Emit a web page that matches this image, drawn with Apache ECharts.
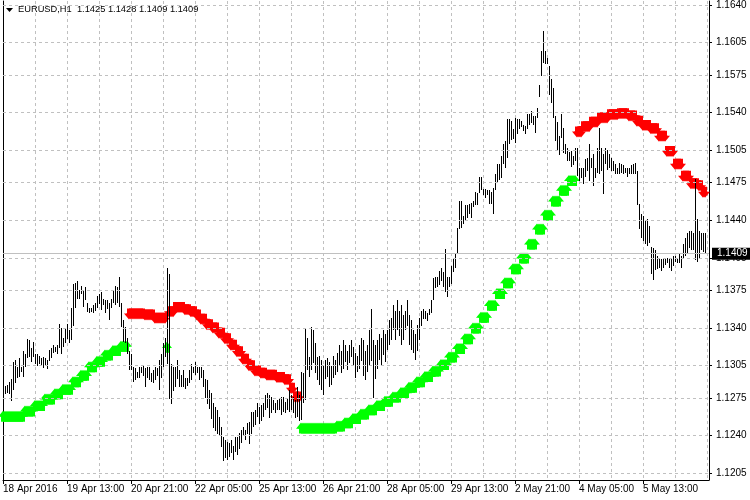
<!DOCTYPE html>
<html><head><meta charset="utf-8">
<script src="https://cdn.jsdelivr.net/npm/echarts@6/dist/echarts.min.js"></script>
<style>html,body{margin:0;padding:0;background:#fff}#c{width:750px;height:500px}</style>
</head><body><div id="c"></div>
<script>
// ---- chart data ----
const symbolName = 'EURUSD';
const timeframe = 'H1';
const lastBar = { open: 1.1425, high: 1.1428, low: 1.1409, close: 1.1409 };
const firstBarUTC = Date.UTC(2016, 3, 18, 5); // 18 Apr 2016 05:00, hourly bars (weekends skipped)
const shiftBars = 2;                           // empty chart-shift space on the right

const highs = [
1.1294,1.1286,1.1287,1.1290,1.1293,1.1308,1.1310,1.1304,1.1312,1.1304,
1.1319,1.1316,1.1330,1.1329,1.1321,1.1327,1.1316,1.1316,1.1314,1.1312,
1.1313,1.1312,1.1310,1.1320,1.1321,1.1324,1.1322,1.1324,1.1344,1.1340,
1.1331,1.1340,1.1344,1.1338,1.1359,1.1381,1.1382,1.1384,1.1375,1.1379,
1.1375,1.1378,1.1363,1.1359,1.1359,1.1361,1.1363,1.1370,1.1372,1.1373,
1.1367,1.1366,1.1366,1.1363,1.1367,1.1375,1.1379,1.1378,1.1387,1.1363,
1.1347,1.1341,1.1331,1.1319,1.1316,1.1304,1.1303,1.1299,1.1304,1.1304,
1.1305,1.1303,1.1304,1.1304,1.1298,1.1301,1.1304,1.1303,1.1310,1.1316,
1.1326,1.1331,1.1396,1.1390,1.1307,1.1304,1.1304,1.1310,1.1301,1.1296,
1.1301,1.1294,1.1294,1.1301,1.1307,1.1304,1.1308,1.1304,1.1304,1.1304,
1.1301,1.1293,1.1292,1.1282,1.1280,1.1270,1.1267,1.1264,1.1257,1.1248,
1.1239,1.1236,1.1234,1.1233,1.1236,1.1230,1.1239,1.1239,1.1242,1.1245,
1.1248,1.1245,1.1252,1.1253,1.1262,1.1262,1.1264,1.1270,1.1267,1.1268,
1.1270,1.1278,1.1280,1.1278,1.1276,1.1273,1.1270,1.1273,1.1275,1.1276,
1.1276,1.1271,1.1275,1.1282,1.1278,1.1276,1.1273,1.1285,1.1278,1.1299,
1.1298,1.1339,1.1331,1.1313,1.1341,1.1338,1.1326,1.1313,1.1314,1.1310,
1.1305,1.1310,1.1312,1.1308,1.1305,1.1314,1.1310,1.1317,1.1324,1.1319,
1.1329,1.1324,1.1319,1.1324,1.1329,1.1322,1.1317,1.1314,1.1324,1.1331,
1.1329,1.1319,1.1324,1.1338,1.1358,1.1329,1.1324,1.1329,1.1334,1.1331,
1.1338,1.1334,1.1338,1.1347,1.1349,1.1361,1.1356,1.1366,1.1356,1.1361,
1.1352,1.1356,1.1366,1.1352,1.1347,1.1338,1.1334,1.1343,1.1349,1.1356,
1.1358,1.1356,1.1354,1.1358,1.1366,1.1386,1.1387,1.1387,1.1393,1.1396,
1.1392,1.1413,1.1387,1.1387,1.1398,1.1405,1.1409,1.1433,1.1458,1.1458,
1.1444,1.1454,1.1454,1.1455,1.1456,1.1458,1.1466,1.1465,1.1480,1.1480,
1.1469,1.1469,1.1468,1.1468,1.1466,1.1470,1.1483,1.1492,1.1492,1.1500,
1.1511,1.1514,1.1534,1.1534,1.1532,1.1525,1.1535,1.1534,1.1534,1.1532,
1.1529,1.1528,1.1539,1.1539,1.1542,1.1537,1.1537,1.1544,1.1566,1.1597,
1.1616,1.1597,1.1591,1.1583,1.1571,1.1563,1.1537,1.1531,1.1518,1.1539,
1.1526,1.1511,1.1507,1.1503,1.1504,1.1500,1.1507,1.1507,1.1489,1.1489,
1.1489,1.1497,1.1498,1.1511,1.1498,1.1502,1.1489,1.1507,1.1526,1.1507,
1.1502,1.1507,1.1505,1.1502,1.1498,1.1495,1.1492,1.1489,1.1493,1.1492,
1.1491,1.1489,1.1489,1.1489,1.1491,1.1492,1.1493,1.1486,1.1455,1.1446,
1.1444,1.1440,1.1441,1.1435,1.1415,1.1414,1.1412,1.1407,1.1404,1.1404,
1.1405,1.1404,1.1405,1.1405,1.1405,1.1407,1.1407,1.1405,1.1409,1.1407,
1.1418,1.1424,1.1428,1.1430,1.1430,1.1428,1.1478,1.1441,1.1430,1.1428,
1.1428,1.1428
];
const lows = [
1.1276,1.1279,1.1280,1.1279,1.1273,1.1282,1.1289,1.1294,1.1294,1.1299,
1.1295,1.1304,1.1312,1.1313,1.1308,1.1313,1.1307,1.1305,1.1307,1.1305,
1.1303,1.1305,1.1302,1.1310,1.1312,1.1317,1.1317,1.1316,1.1322,1.1316,
1.1323,1.1326,1.1330,1.1326,1.1329,1.1342,1.1359,1.1367,1.1367,1.1372,
1.1359,1.1366,1.1355,1.1354,1.1355,1.1354,1.1356,1.1359,1.1363,1.1356,
1.1361,1.1354,1.1358,1.1347,1.1359,1.1363,1.1361,1.1363,1.1359,1.1341,
1.1327,1.1326,1.1316,1.1301,1.1301,1.1290,1.1292,1.1293,1.1294,1.1298,
1.1296,1.1285,1.1294,1.1292,1.1290,1.1289,1.1292,1.1296,1.1282,1.1294,
1.1304,1.1313,1.1307,1.1274,1.1270,1.1282,1.1285,1.1292,1.1285,1.1285,
1.1285,1.1284,1.1287,1.1289,1.1292,1.1298,1.1296,1.1298,1.1292,1.1294,
1.1285,1.1275,1.1270,1.1264,1.1256,1.1247,1.1245,1.1242,1.1239,1.1229,
1.1217,1.1219,1.1217,1.1220,1.1224,1.1217,1.1225,1.1222,1.1227,1.1233,
1.1241,1.1236,1.1242,1.1233,1.1242,1.1248,1.1250,1.1257,1.1251,1.1253,
1.1257,1.1264,1.1266,1.1257,1.1261,1.1264,1.1261,1.1264,1.1264,1.1259,
1.1262,1.1261,1.1264,1.1262,1.1264,1.1261,1.1256,1.1257,1.1254,1.1254,
1.1270,1.1273,1.1301,1.1294,1.1301,1.1307,1.1298,1.1292,1.1287,1.1282,
1.1278,1.1292,1.1294,1.1285,1.1287,1.1294,1.1296,1.1299,1.1305,1.1299,
1.1302,1.1308,1.1301,1.1307,1.1313,1.1304,1.1294,1.1299,1.1302,1.1310,
1.1296,1.1292,1.1299,1.1305,1.1310,1.1275,1.1292,1.1302,1.1310,1.1305,
1.1315,1.1308,1.1319,1.1324,1.1329,1.1338,1.1329,1.1338,1.1333,1.1324,
1.1329,1.1338,1.1342,1.1324,1.1319,1.1317,1.1310,1.1319,1.1329,1.1342,
1.1349,1.1349,1.1347,1.1352,1.1354,1.1366,1.1377,1.1378,1.1380,1.1384,
1.1378,1.1373,1.1368,1.1378,1.1381,1.1392,1.1396,1.1410,1.1432,1.1433,
1.1437,1.1440,1.1442,1.1446,1.1442,1.1452,1.1454,1.1454,1.1465,1.1468,
1.1463,1.1461,1.1463,1.1455,1.1455,1.1446,1.1468,1.1474,1.1477,1.1480,
1.1492,1.1489,1.1498,1.1511,1.1514,1.1516,1.1512,1.1520,1.1525,1.1526,
1.1523,1.1521,1.1525,1.1529,1.1531,1.1529,1.1521,1.1535,1.1555,1.1574,
1.1586,1.1585,1.1585,1.1556,1.1549,1.1535,1.1514,1.1505,1.1500,1.1517,
1.1503,1.1502,1.1495,1.1495,1.1489,1.1492,1.1495,1.1481,1.1477,1.1480,
1.1474,1.1480,1.1486,1.1477,1.1489,1.1472,1.1480,1.1484,1.1483,1.1486,
1.1465,1.1492,1.1486,1.1489,1.1486,1.1486,1.1483,1.1483,1.1483,1.1484,
1.1483,1.1484,1.1481,1.1483,1.1483,1.1483,1.1483,1.1454,1.1432,1.1424,
1.1421,1.1418,1.1416,1.1419,1.1390,1.1384,1.1393,1.1395,1.1396,1.1393,
1.1396,1.1398,1.1400,1.1396,1.1393,1.1398,1.1401,1.1400,1.1401,1.1396,
1.1405,1.1407,1.1409,1.1414,1.1412,1.1412,1.1403,1.1401,1.1405,1.1412,
1.1410,1.1409
];

// Trailing-stop indicator: segments, each starting at a bar index
const greenStopA_start = 0;
const greenStopA = [
1.1258,1.1258,1.1258,1.1258,1.1258,1.1258,1.1258,1.1258,1.1258,1.1258,1.1258,
1.1263,1.1263,1.1263,1.1263,1.1263,1.1268,1.1268,1.1268,1.1268,1.1268,
1.1274,1.1274,1.1274,1.1274,1.1274,1.1279,1.1279,1.1279,1.1279,
1.1283,1.1283,1.1283,1.1283,1.1283,1.1290,1.1290,1.1290,1.1290,
1.1296,1.1296,1.1296,1.1296,1.1304,1.1304,1.1304,1.1304,
1.1309,1.1309,1.1309,1.1309,1.1315,1.1315,1.1315,1.1315,
1.1319,1.1319,1.1319,1.1319,1.1323,1.1323,1.1323,1.1323
];
const greenStopB_start = 82;
const greenStopB = [1.1322];
const greenStopC_start = 149;
const greenStopC = [
1.1247,1.1247,1.1247,1.1247,1.1247,1.1247,1.1247,1.1247,1.1247,
1.1247,1.1247,1.1247,1.1247,1.1247,1.1247,1.1247,1.1247,1.1247,
1.1249,1.1249,1.1249,1.1249,1.1252,1.1252,1.1252,1.1252,
1.1256,1.1256,1.1256,1.1256,1.1260,1.1260,1.1260,1.1260,
1.1264,1.1264,1.1264,1.1264,1.1268,1.1268,1.1268,1.1268,
1.1272,1.1272,1.1272,1.1272,1.1276,1.1276,1.1276,1.1276,
1.1280,1.1280,1.1280,1.1280,1.1285,1.1285,1.1285,1.1285,
1.1290,1.1290,1.1290,1.1290,1.1295,1.1295,1.1295,1.1295,
1.1300,1.1300,1.1300,1.1300,1.1306,1.1306,1.1306,1.1306,
1.1313,1.1313,1.1313,1.1313,1.1321,1.1321,1.1321,1.1321,
1.1330,1.1330,1.1330,1.1330,1.1340,1.1340,1.1340,1.1340,
1.1350,1.1350,1.1350,1.1350,1.1361,1.1361,1.1361,1.1361,
1.1372,1.1372,1.1372,1.1372,1.1382,1.1382,1.1382,1.1382,
1.1395,1.1395,1.1395,1.1395,1.1405,1.1405,1.1405,1.1405,
1.1418,1.1418,1.1418,1.1418,1.1432,1.1432,1.1432,1.1432,
1.1445,1.1445,1.1445,1.1445,1.1458,1.1458,1.1458,1.1458,
1.1468,1.1468,1.1468,1.1468,1.1477,1.1477,1.1477,1.1477
];
const redStopA_start = 63;
const redStopA = [
1.1353,1.1353,1.1353,1.1353,1.1353,1.1353,1.1353,1.1353,
1.1352,1.1352,1.1352,1.1352,1.1352,
1.1349,1.1349,1.1349,1.1349,1.1349,1.1349
];
const redStopB_start = 83;
const redStopB = [
1.1355,1.1355,1.1355,1.1359,1.1359,1.1359,1.1359,1.1359,
1.1357,1.1357,1.1357,1.1355,1.1355,1.1355,1.1352,1.1352,
1.1348,1.1348,1.1348,1.1343,1.1343,1.1343,1.1340,1.1340,1.1340,
1.1335,1.1335,1.1335,1.1330,1.1330,1.1330,1.1324,1.1324,1.1324,
1.1318,1.1318,1.1318,1.1311,1.1311,1.1311,1.1305,1.1305,1.1305,
1.1300,1.1300,1.1300,1.1298,1.1298,1.1298,
1.1296,1.1296,1.1296,1.1296,1.1296,1.1294,1.1294,1.1294,1.1294,
1.1292,1.1292,1.1292,1.1284,1.1284,1.1276,1.1276,1.1276
];
const redStopC_start = 287;
const redStopC = [
1.1522,1.1522,1.1522,1.1527,1.1527,1.1527,1.1527,
1.1531,1.1531,1.1531,1.1531,1.1535,1.1535,1.1535,1.1535,1.1535,
1.1538,1.1538,1.1538,1.1538,1.1538,1.1539,1.1539,1.1539,1.1539,1.1539,
1.1537,1.1537,1.1537,1.1537,1.1532,1.1532,1.1532,
1.1528,1.1528,1.1528,1.1528,1.1525,1.1525,1.1525,1.1525,
1.1518,1.1518,1.1518,1.1518,1.1504,1.1504,1.1504,1.1504,
1.1492,1.1492,1.1492,1.1492,1.1481,1.1481,1.1481,1.1481,
1.1474,1.1474,1.1474,1.1474,1.1472,1.1472,1.1466,1.1466
];

const priceTicks = [1.1205,1.1240,1.1275,1.1305,1.1340,1.1375,1.1405,1.1440,1.1475,1.1505,1.1540,1.1575,1.1605,1.1640];

// ---- build ----
const MONTHS = ['Jan','Feb','Mar','Apr','May','Jun','Jul','Aug','Sep','Oct','Nov','Dec'];
const barTimes = [];
for (let t = firstBarUTC; barTimes.length < highs.length + shiftBars; t += 3600000) {
  const d = new Date(t); const wd = d.getUTCDay();
  if (wd !== 0 && wd !== 6) barTimes.push(d);
}
const pad = n => (n < 10 ? '0' : '') + n;
const cats = barTimes.map(d => d.getUTCDate() + ' ' + MONTHS[d.getUTCMonth()] + ' ' + pad(d.getUTCHours()) + ':00');
const firstLabel = barTimes[0].getUTCDate() + ' ' + MONTHS[barTimes[0].getUTCMonth()] + ' ' + barTimes[0].getUTCFullYear();

function seg(start, vals) { return vals.map((v, k) => [start + k, v]); }
const greenPts = [].concat(seg(greenStopA_start, greenStopA), seg(greenStopB_start, greenStopB), seg(greenStopC_start, greenStopC));
const redPts = [].concat(seg(redStopA_start, redStopA), seg(redStopB_start, redStopB), seg(redStopC_start, redStopC));
const barData = highs.map((h, i) => [i, lows[i], h]);

const titleText = symbolName + ',' + timeframe + '  ' + [lastBar.open, lastBar.high, lastBar.low, lastBar.close].map(v => v.toFixed(4)).join(' ');
const FONT = 'Liberation Sans';
const Y_MIN = 1.11988, Y_MAX = 1.16437;

const upArrow = 'path://M5,0 L10,5.5 L7,5.5 L7,10 L3,10 L3,5.5 L0,5.5 Z';
const downArrow = 'path://M3,0 L7,0 L7,4.5 L10,4.5 L5,10 L0,4.5 L3,4.5 Z';

const chart = echarts.init(document.getElementById('c'), null, { renderer: 'canvas' });
chart.setOption({
  animation: false,
  backgroundColor: '#ffffff',
  textStyle: { fontFamily: FONT },
  title: { text: titleText, left: 18, top: 5, padding: 0,
    textStyle: { fontSize: 9.3, fontWeight: 'normal', color: '#000', fontFamily: FONT } },
  graphic: [{ type: 'polygon', shape: { points: [[6, 8], [13, 8], [9.5, 12]] }, style: { fill: '#000' }, silent: true }],
  grid: { left: 3, right: 41, top: 0, bottom: 20 },
  xAxis: {
    type: 'category', data: cats, boundaryGap: false,
    axisLine: { show: true, lineStyle: { color: '#000', width: 1 } },
    axisTick: { show: true, interval: (i) => i % 32 === 0 && i < highs.length, length: 4, lineStyle: { color: '#000' } },
    axisLabel: { interval: (i) => i % 32 === 0 && i < highs.length, formatter: (v, i) => (i === 0 ? firstLabel : v),
      align: 'left', margin: 4, fontSize: 10, color: '#000', fontFamily: FONT },
    splitLine: { show: true, interval: (i) => i > 0 && i % 16 === 0, lineStyle: { color: '#c0c0c0', type: [3, 3], width: 1 } }
  },
  yAxis: [{
    type: 'value', position: 'right', min: Y_MIN, max: Y_MAX,
    axisLine: { show: true, lineStyle: { color: '#000' } },
    axisTick: { show: true, customValues: priceTicks, length: 3, lineStyle: { color: '#000' } },
    axisLabel: { customValues: priceTicks, formatter: v => v.toFixed(4), margin: 7, fontSize: 10, color: '#000', fontFamily: FONT },
    splitLine: { show: false }
  }, {
    type: 'value', position: 'left', min: Y_MIN, max: Y_MAX,
    axisLine: { show: true, lineStyle: { color: '#000' } },
    axisTick: { show: false }, axisLabel: { show: false }, splitLine: { show: false }
  }],
  series: [
    { type: 'line', data: [], silent: true, z: 1,
      markLine: { silent: true, precision: 6, symbol: ['none', 'none'], animation: false, label: { show: false },
        lineStyle: { color: '#c0c0c0', type: [3, 3], width: 1 },
        data: priceTicks.map(v => ({ yAxis: v })) } },
    { type: 'line', data: [], silent: true, z: 4,
      markLine: { silent: true, precision: 6, symbol: ['none', 'none'], animation: false,
        lineStyle: { color: '#c0c0c0', type: 'solid', width: 1 },
        label: { show: true, position: 'end', distance: 3, formatter: lastBar.close.toFixed(4), color: '#fff',
          backgroundColor: '#000', padding: [1, 5, 1, 5], fontSize: 10, fontFamily: FONT },
        data: [{ yAxis: lastBar.close }] } },
    { type: 'scatter', data: greenPts, symbol: upArrow, symbolSize: [10, 11], silent: true, z: 2,
      itemStyle: { color: '#00ff00', opacity: 1 } },
    { type: 'scatter', data: redPts, symbol: downArrow, symbolSize: [10, 11], silent: true, z: 2,
      itemStyle: { color: '#ff0000', opacity: 1 } },
    { type: 'custom', data: barData, silent: true, z: 3, encode: { x: 0, y: [1, 2] },
      renderItem: function (params, api) {
        const top = api.coord([api.value(0), api.value(2)]);
        const bot = api.coord([api.value(0), api.value(1)]);
        return { type: 'rect', shape: { x: Math.round(top[0]), y: Math.round(top[1]), width: 1, height: Math.max(1, Math.round(bot[1] - top[1])) },
          style: { fill: '#000' } };
      } }
  ]
});
</script>
</body></html>
